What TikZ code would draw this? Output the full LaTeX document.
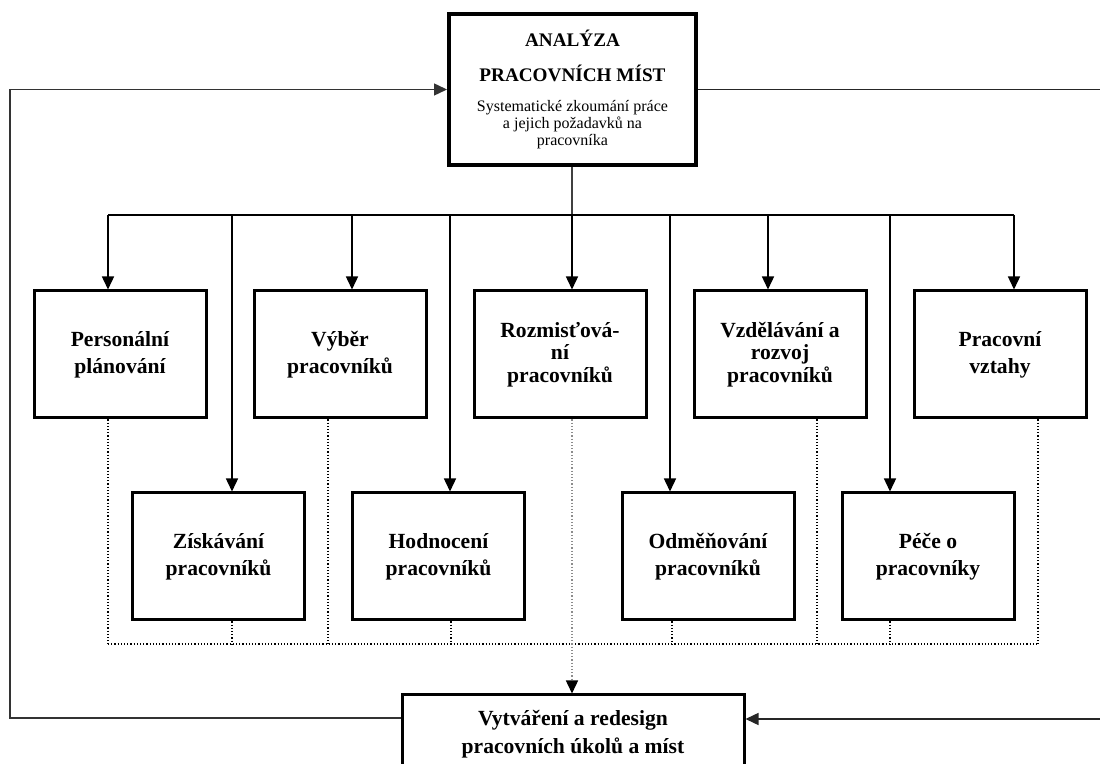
\documentclass[tikz,border=0pt]{standalone}
\usepackage{fontspec}
\setmainfont{Liberation Serif}
\usepackage{tikz}
\usetikzlibrary{arrows.meta}
\usetikzlibrary{positioning}

\newcommand{\smalltxt}{\mdseries\fontsize{8}{8.5}\selectfont}

\begin{document}
\begin{tikzpicture}[x=0.5pt,y=-0.5pt,node distance=110pt,
	task box/.style={draw, line width=1.5pt, minimum width=86pt, minimum height=63.5pt, align=center, inner sep=2pt, font=\bfseries\fontsize{10.8}{13.5}\selectfont},
	tight/.style={font=\bfseries\fontsize{10.8}{11.3}\selectfont},
	arr/.style={-{Triangle[length=6.5pt,width=6pt]}, line width=0.7pt},
	dot line/.style={line width=0.7pt, dash pattern=on 0.6pt off 1pt}]
			\clip (0,0) rectangle (1100,764);
			% Nodes
			\node[draw, line width=2pt, minimum width=123.5pt, minimum height=75.5pt, align=center, inner sep=0pt, font=\bfseries\fontsize{9.6}{11.5}\selectfont] (anal) at (572.5,89.5)
			{ANALÝZA\\[6pt]PRACOVNÍCH MÍST\\[3.5pt]\smalltxt Systematické zkoumání práce\\[-3pt]\smalltxt a jejich požadavků na\\[-3pt]\smalltxt pracovníka};
			
			\node[task box] (plan) at (120,354.5) {Personální\\plánování};
			\node[task box] (vyber) [right of=plan] {Výběr\\pracovníků};
			\node[task box, tight] (rozm) [right of=vyber] {Rozmisťová-\\ní\\pracovníků};
			\node[task box, tight] (vzdel) [right of=rozm] {Vzdělávání a\\rozvoj\\pracovníků};
			\node[task box] (vztahy) [right of=vzdel] {Pracovní\\vztahy};
			
			\node[task box] (ziskav) at (218.5,556.5) {Získávání\\pracovníků};
			\node[task box] (hodn) [right of=ziskav] {Hodnocení\\pracovníků};
			\node[task box] (odmen) [right of=hodn, xshift=24.75pt] {Odměňování\\pracovníků};
			\node[task box] (pece) [right of=odmen] {Péče o\\pracovníky};
			
			\node[task box, minimum width=171pt, minimum height=39pt, font=\bfseries\fontsize{10.8}{14}\selectfont] (redes) at (573,734) {Vytváření a redesign\\pracovních úkolů a míst};
			
			\coordinate (bus) at (572,215);
			\coordinate (busL) at (108,215);
			\coordinate (busR) at (1014,215);
			\coordinate (dotL) at (108,644);
			\coordinate (dotR) at (1038,644);
			\coordinate (farL) at (10,718);
			\coordinate (farR) at (1110,719);
			
			% from the analysis down to every activity
			\draw[line width=0.7pt, black!75] (anal.south -| bus) -- (bus);
			\draw[line width=0.7pt] (busL) -- (busR);
			\foreach \x/\n in {108/plan, 352/vyber, 572/rozm, 768/vzdel, 1014/vztahy, 232/ziskav, 450/hodn, 670/odmen, 890/pece}
			\draw[arr] (\x,215) -- (\x,215 |- \n.north);
			
			% dotted collector
			\draw[dot line] (dotL) -- (dotR);
			\foreach \x/\n in {108/plan, 328/vyber, 817/vzdel, 1038/vztahy, 232/ziskav, 451/hodn, 672/odmen, 890/pece}
			\draw[dot line] (\x,644 |- \n.south) -- (\x,644);
			\draw[dot line, black!45, -{Triangle[length=6.5pt,width=6pt,black]}] (572,644 |- rozm.south) -- (572,644 |- redes.north);
			
			% feedback loops
			\draw[arr, black!80] (redes.west |- farL) -- (farL) |- (anal.west);
			\draw[arr, black!85] (anal.east) -| (farR) -- (redes.east |- farR);
			
		\end{tikzpicture}
\end{document}
